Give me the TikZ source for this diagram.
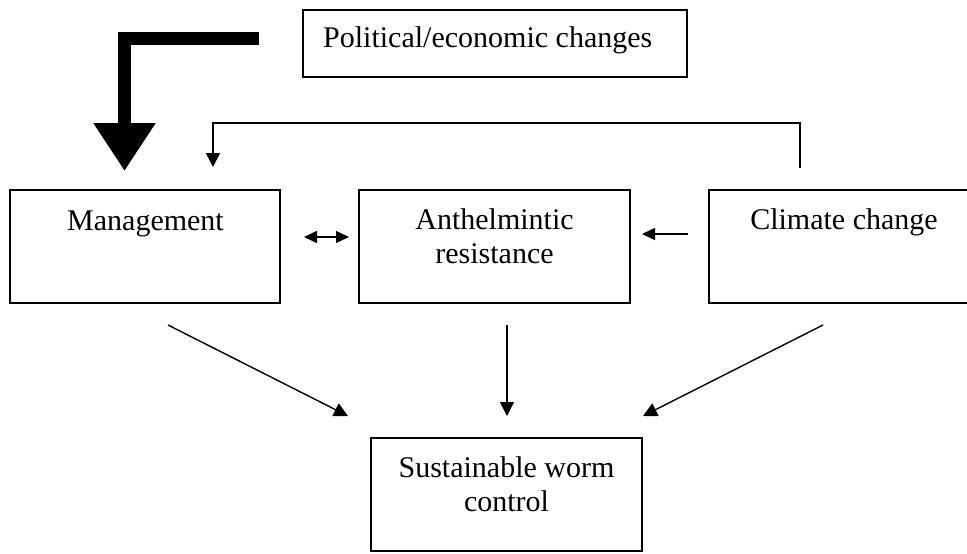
\documentclass[tikz,border=0pt]{standalone}
\usepackage{fontspec}
\setmainfont{Liberation Serif}
\usetikzlibrary{arrows.meta}
\begin{document}
\begin{tikzpicture}[x=1pt,y=-1pt,
  box/.style={draw, line width=1.5pt, inner sep=0pt},
  lbl/.style={font=\fontsize{30}{34}\selectfont, align=center, inner sep=0pt, anchor=base},
  conn/.style={line width=1.4pt, -{Triangle[length=14pt,width=14pt]}},
  smallconn/.style={line width=1.4pt, {Triangle[length=13pt,width=12pt]}-{Triangle[length=13pt,width=12pt]}},
  thickconn/.style={line width=13pt, line join=miter, -{Triangle[length=48pt,width=59pt]}}]
\useasboundingbox (0,0) rectangle (967,554);
\clip (0,0) rectangle (967,554);
% boxes
\node[box, minimum width=384pt, minimum height=67pt] (pol) at (495,43.5) {};
\node[lbl, anchor=base west] (polt) at (323,47) {Political/economic changes};
\node[box, minimum width=270pt, minimum height=113pt] (mgmt) at (145,246.5) {};
\node[lbl] (mgmtt) at (145.5,230) {Management};
\node[box, minimum width=271pt, minimum height=113pt] (anth) at (494.5,246.5) {};
\node[lbl] (antht) at (494.5,263) {Anthelmintic\\resistance};
\node[box, minimum width=270pt, minimum height=113pt] (clim) at (844,246.5) {};
\node[lbl] (climt) at (844,229) {Climate change};
\node[box, minimum width=271pt, minimum height=113pt] (sust) at (506.5,494.5) {};
\node[lbl] (sustt) at (506.5,511) {Sustainable worm\\control};
% connector end points
\coordinate (thickS) at (259,38);
\coordinate (thickT) at (124.5,171);
\coordinate (fbS) at (800,168);
\coordinate (fbT) at (213,167);
\coordinate (dL) at (304,237);
\coordinate (dR) at (349,237);
\coordinate (cS) at (688,234);
\coordinate (cT) at (642,234);
\coordinate (m1S) at (168,325);
\coordinate (m1T) at (348,416);
\coordinate (m2S) at (507,325);
\coordinate (m2T) at (507,416);
\coordinate (m3S) at (823,325);
\coordinate (m3T) at (643,416);
% connectors
\draw[thickconn] (thickS) -| (thickT);
\draw[conn] (fbS) -- ++(0,-45) -| (fbT);
\draw[smallconn] (dL) -- (dR);
\draw[line width=1.4pt, -{Triangle[length=13pt,width=12pt]}] (cS) -- (cT);
\draw[conn] (m1S) -- (m1T);
\draw[conn] (m2S) -- (m2T);
\draw[conn] (m3S) -- (m3T);
\end{tikzpicture}
\end{document}
